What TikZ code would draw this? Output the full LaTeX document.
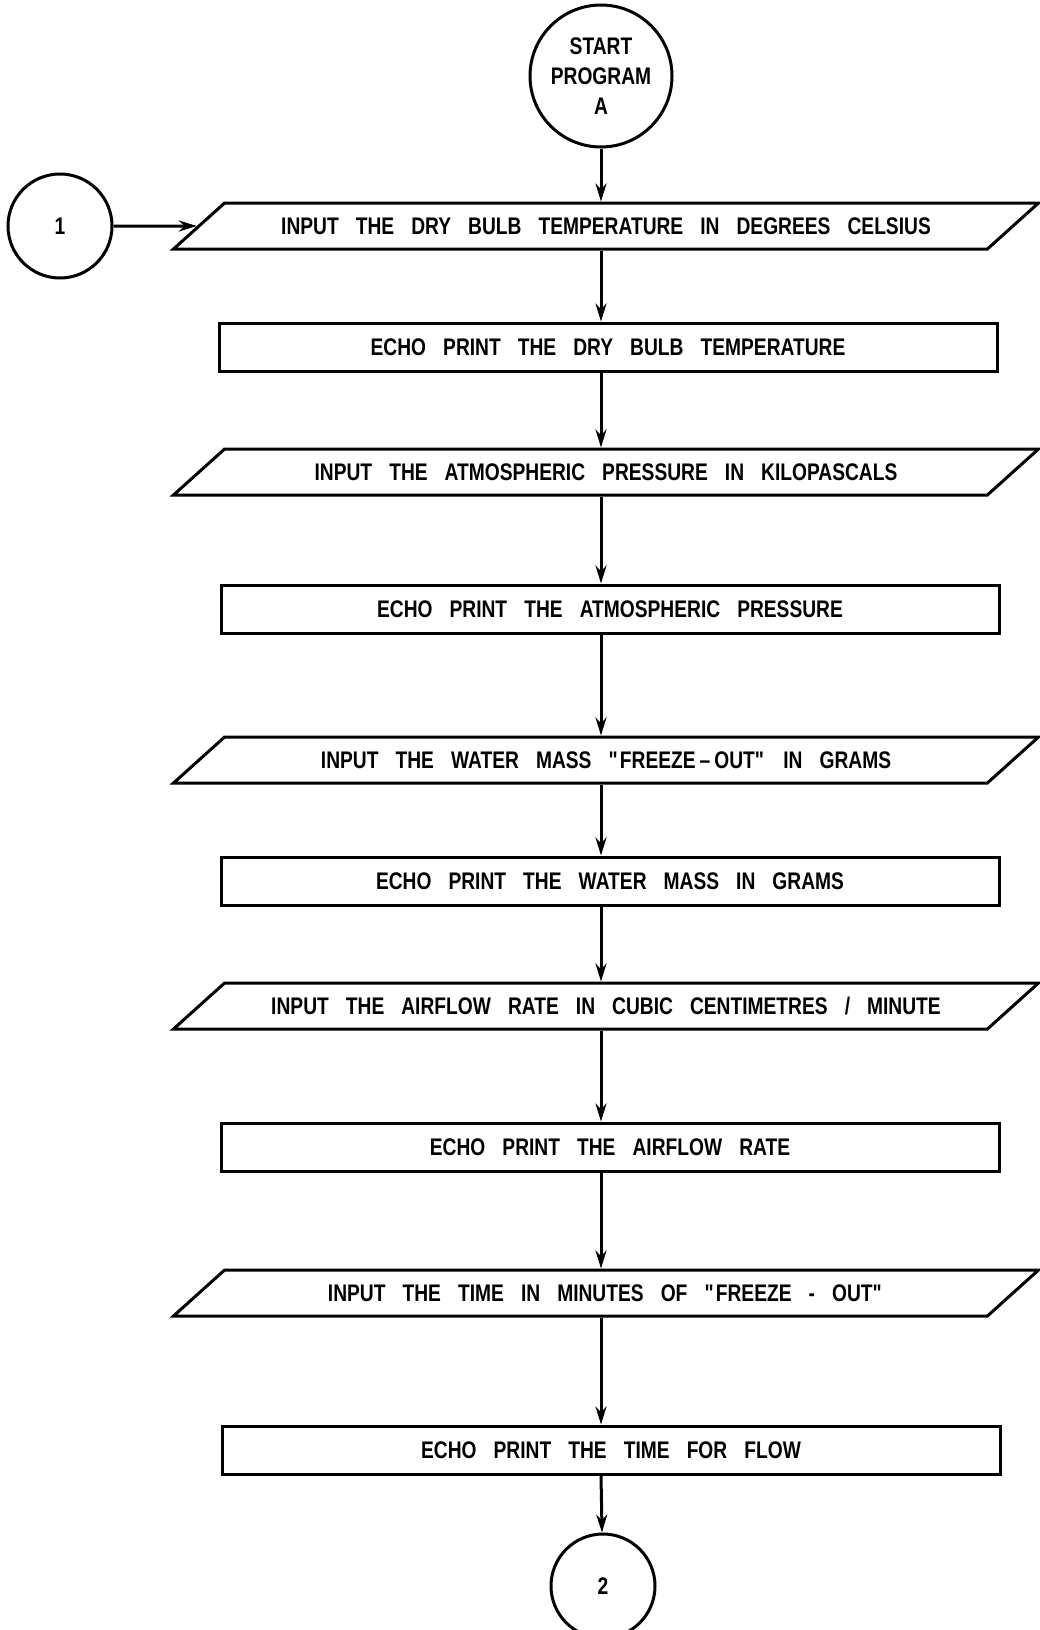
\documentclass[tikz,border=0pt]{standalone}
\usepackage{fontspec}
\setmainfont[FakeStretch=0.8,WordSpace=3.2]{Liberation Sans}
\usetikzlibrary{arrows.meta,positioning,shapes.geometric}
\newcommand\chartfont{\fontsize{24}{30}\selectfont\bfseries}
\tikzset{
  io/.style={trapezium,draw,line width=3pt,trapezium left angle=42,%
    trapezium right angle=138,trapezium stretches body,minimum width=865pt,%
    text height=17pt,text depth=0pt,inner ysep=14.5pt,inner xsep=0pt,font=\chartfont},
  proc/.style={rectangle,draw,line width=3pt,minimum width=778pt,%
    minimum height=48pt,inner sep=0pt,font=\chartfont},
  term/.style={circle,draw,line width=3pt,minimum size=104pt,inner sep=0pt,%
    align=center,font=\chartfont},
  flow/.style={-{Stealth[length=18pt,width=11pt]},line width=3pt},
}
\begin{document}
\begin{tikzpicture}[x=1pt,y=-1pt]
\useasboundingbox (0,0) rectangle (1039,1630);
\node[term,minimum size=142pt] (start) at (601,76) {START\\PROGRAM\\A};
\node[term] (c1) at (60,226) {1};
\node[io] (p1) at (606,226) {INPUT THE DRY BULB TEMPERATURE IN DEGREES CELSIUS};
\node[proc] (e1) at (608,347) {ECHO PRINT THE DRY BULB TEMPERATURE};
\node[io] (p2) at (606,472) {INPUT THE ATMOSPHERIC PRESSURE IN KILOPASCALS};
\node[proc] (e2) at (610,609) {ECHO PRINT THE ATMOSPHERIC PRESSURE};
\node[io] (p3) at (606,760) {INPUT THE WATER MASS \textquotedbl FREEZE\,--\,OUT\textquotedbl\ IN GRAMS};
\node[proc] (e3) at (610,881) {ECHO PRINT THE WATER MASS IN GRAMS};
\node[io] (p4) at (606,1006) {INPUT THE AIRFLOW RATE IN CUBIC CENTIMETRES / MINUTE};
\node[proc] (e4) at (610,1147) {ECHO PRINT THE AIRFLOW RATE};
\node[io] (p5) at (606,1293) {INPUT THE TIME IN MINUTES OF \textquotedbl FREEZE - OUT\textquotedbl};
\node[proc] (e5) at (611,1450) {ECHO PRINT THE TIME FOR FLOW};
\node[term] (c2) at (603,1586) {2};
\draw[flow] (c1) -- (p1);
\draw[flow] (start) -- (start |- p1.north);
\draw[flow] (p1.south -| start) -- (e1.north -| start);
\draw[flow] (e1.south -| start) -- (p2.north -| start);
\draw[flow] (p2.south -| start) -- (e2.north -| start);
\draw[flow] (e2.south -| start) -- (p3.north -| start);
\draw[flow] (p3.south -| start) -- (e3.north -| start);
\draw[flow] (e3.south -| start) -- (p4.north -| start);
\draw[flow] (p4.south -| start) -- (e4.north -| start);
\draw[flow] (e4.south -| start) -- (p5.north -| start);
\draw[flow] (p5.south -| start) -- (e5.north -| start);
\draw[flow] (e5.south -| start) -- (c2);
\end{tikzpicture}
\end{document}
